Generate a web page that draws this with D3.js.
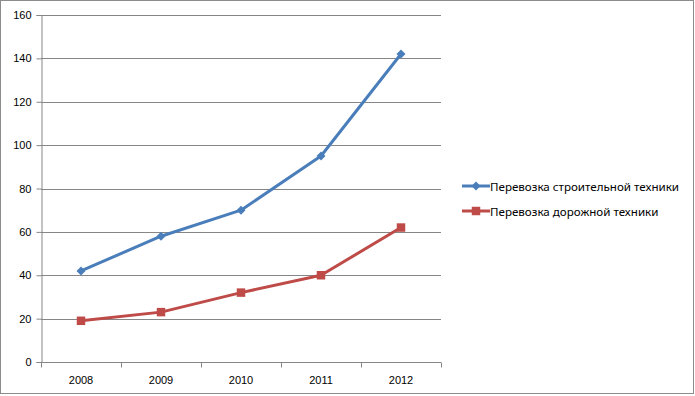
<!DOCTYPE html>
<html>
<head>
<meta charset="utf-8">
<script src="https://cdn.jsdelivr.net/npm/d3@7"></script>
<style>
  body { margin: 0; background: #fff; }
  svg { display: block; font-family: "Noto Sans", "DejaVu Sans", sans-serif; }
  .tick text { fill: #000; font-size: 11px; }
</style>
</head>
<body>
<svg id="chart"></svg>
<script>
"use strict";

var years = ["2008", "2009", "2010", "2011", "2012"];
var buildValues = [42, 58, 70, 95, 142];
var roadValues = [19, 23, 32, 40, 62];
var seriesNames = ["Перевозка строительной техники", "Перевозка дорожной техники"];
var yTicks = [0, 20, 40, 60, 80, 100, 120, 140, 160];

var width = 695;
var height = 396;
var margin = { top: 15, right: 254, bottom: 34, left: 41 };
var viewWidth = width - margin.left - margin.right;
var viewHeight = height - margin.top - margin.bottom;

var svg = d3.select("#chart").attr("width", width).attr("height", height);

// outer frame
svg.append("rect").attr("x", 0.5).attr("y", 0.5).attr("width", width - 2).attr("height", height - 3)
  .attr("fill", "#fff").attr("stroke", "#8c8c8c");

var xScale = d3.scaleBand().domain(years).range([0, viewWidth]);
var yScale = d3.scaleLinear().domain([0, 160]).range([viewHeight, 0]);

var G = svg.append("g").attr("transform", "translate(" + margin.left + "," + margin.top + ")");

// gridlines
G.append("g").selectAll("line").data(yTicks.slice(1)).enter().append("line")
  .attr("x1", 0).attr("x2", viewWidth)
  .attr("y1", function (d) { return Math.round(yScale(d)) + 0.5; })
  .attr("y2", function (d) { return Math.round(yScale(d)) + 0.5; })
  .attr("stroke", "#868686");

var yAxisCall = d3.axisLeft(yScale).tickValues(yTicks).tickSize(5).tickPadding(5);
var yAxis = G.append("g").attr("transform", "translate(0.5,0)").call(yAxisCall);
yAxis.selectAll("path, line").attr("stroke", "#868686");
yAxis.selectAll("text").style("font-size", "11px");

var xAxisCall = d3.axisBottom(xScale).tickSize(0).tickPadding(14);
var xAxis = G.append("g").attr("transform", "translate(0," + (viewHeight + 0.5) + ")").call(xAxisCall);
xAxis.select(".domain").attr("stroke", "#868686").attr("d", "M0,0H" + viewWidth);
xAxis.selectAll("text").style("font-size", "11px");
// category separators
xAxis.append("g").selectAll("line").data(d3.range(years.length + 1)).enter().append("line")
  .attr("x1", function (i) { return Math.round(i * xScale.step()) + 0.5; })
  .attr("x2", function (i) { return Math.round(i * xScale.step()) + 0.5; })
  .attr("y1", 0).attr("y2", 5).attr("stroke", "#868686");

var cx = function (d, i) { return xScale(years[i]) + xScale.bandwidth() / 2; };
var line = d3.line().x(cx).y(function (d) { return yScale(d); });

// diamond = square turned 45 degrees, like the spreadsheet marker
var series = [
  { name: seriesNames[0], values: buildValues, color: "#4a7ebb", size: 40, rot: 45 },
  { name: seriesNames[1], values: roadValues, color: "#be4b48", size: 72, rot: 0 }
];

series.forEach(function (s) {
  G.append("path").datum(s.values).attr("d", line)
    .attr("fill", "none").attr("stroke", s.color).attr("stroke-width", 3).attr("stroke-linejoin", "round");
  G.append("g").selectAll("path").data(s.values).enter().append("path")
    .attr("d", d3.symbol().type(d3.symbolSquare).size(s.size))
    .attr("transform", function (d, i) { return "translate(" + cx(d, i) + "," + yScale(d) + ") rotate(" + s.rot + ")"; })
    .attr("fill", s.color);
});

// legend
var legend = svg.append("g").attr("transform", "translate(462,186)");
series.forEach(function (s, i) {
  var row = legend.append("g").attr("transform", "translate(0," + (i * 25) + ")");
  row.append("line").attr("x1", 0).attr("x2", 28).attr("y1", 0).attr("y2", 0)
    .attr("stroke", s.color).attr("stroke-width", 3);
  row.append("path").attr("d", d3.symbol().type(d3.symbolSquare).size(s.size))
    .attr("transform", "translate(14,0) rotate(" + s.rot + ")").attr("fill", s.color);
  row.append("text").attr("x", 28).attr("y", 4.5).style("font-size", "11.6px").text(s.name);
});
</script>
</body>
</html>
